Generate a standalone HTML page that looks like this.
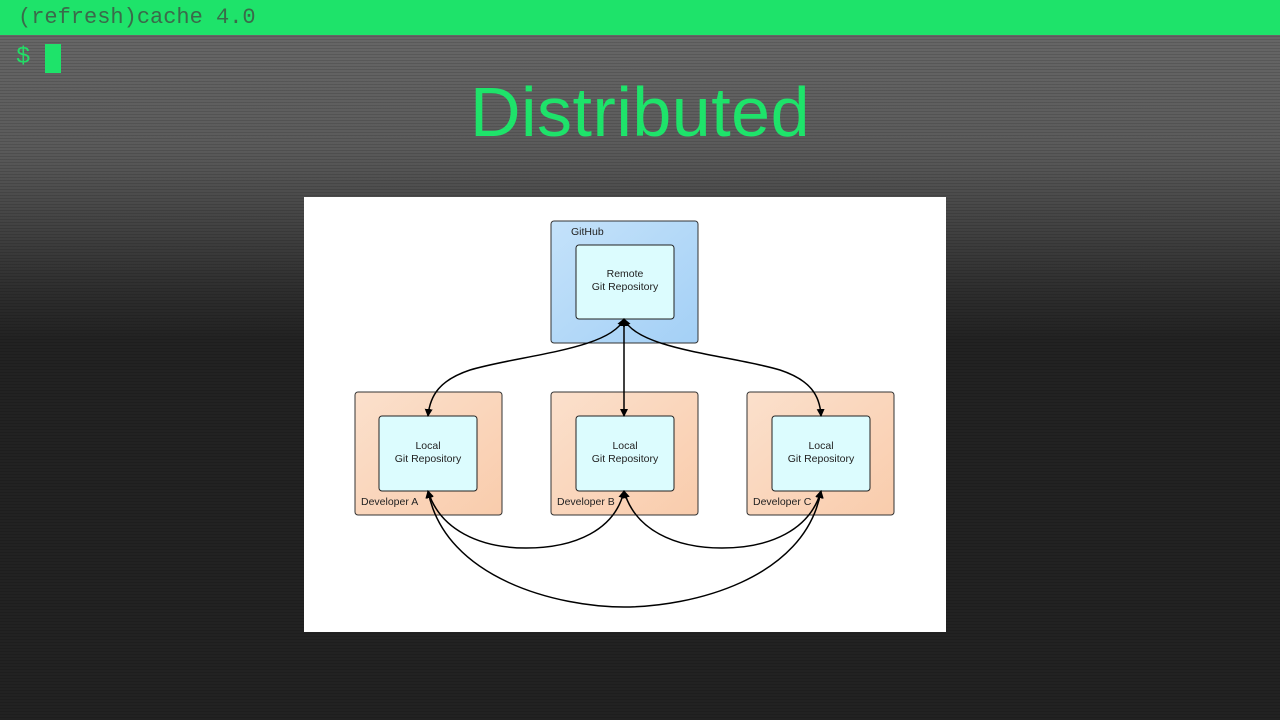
<!DOCTYPE html>
<html><head><style>
body{margin:0;width:1280px;height:720px;overflow:hidden;font-family:"Liberation Mono",monospace;
background:linear-gradient(180deg,#6a6a6a 0px,#5a5a5a 150px,#2e2e2e 290px,#222 340px,#222 720px);position:relative}
.scan{position:absolute;inset:0;background:repeating-linear-gradient(180deg,rgba(0,0,0,0.12) 0 1px,transparent 1px 3px)}
.bar{position:absolute;left:0;top:0;width:1280px;height:35px;background:#1ee36a;color:#3a6a4a;font-size:22px;line-height:35px;padding-left:18px;box-sizing:border-box}
.prompt{position:absolute;left:16px;top:44px;color:#22dd66;font-size:24px}
.cur{position:absolute;left:45px;top:44px;width:16px;height:29px;background:#1ee36a}
h1{position:absolute;left:0;width:1280px;top:72px;margin:0;text-align:center;color:#1ee36a;font-family:"Liberation Sans",sans-serif;font-weight:normal;font-size:70px;letter-spacing:0.5px}
</style></head><body>
<div class="scan"></div>
<div class="bar">(refresh)cache 4.0</div>
<div class="prompt">$</div><div class="cur"></div>
<h1>Distributed</h1>
<svg style="position:absolute;left:304px;top:197px" width="642" height="435" viewBox="304 197 642 435" font-family="Liberation Sans,sans-serif" font-size="10.5" fill="#222">
<defs>
<linearGradient id="b" x1="0" y1="0" x2="1" y2="1"><stop offset="0" stop-color="#c4e2fa"/><stop offset="1" stop-color="#a4d0f6"/></linearGradient>
<linearGradient id="o" x1="0" y1="0" x2="1" y2="1"><stop offset="0" stop-color="#fbe0cc"/><stop offset="1" stop-color="#f9ccac"/></linearGradient>
<marker id="a" markerWidth="8" markerHeight="8" refX="7" refY="4" orient="auto-start-reverse" markerUnits="userSpaceOnUse"><path d="M0,0 L8,4 L0,8z" fill="#000"/></marker>
</defs>
<rect x="304" y="197" width="642" height="435" fill="#fff"/>
<rect x="551" y="221" width="147" height="122" rx="3" fill="url(#b)" stroke="#333"/>
<text x="571" y="235">GitHub</text>
<rect x="576" y="245" width="98" height="74" rx="3" fill="#dcfcfe" stroke="#222"/>
<text x="625" y="277" text-anchor="middle">Remote</text><text x="625" y="290" text-anchor="middle">Git Repository</text>
<g>
<rect x="355" y="392" width="147" height="123" rx="3" fill="url(#o)" stroke="#333"/>
<rect x="379" y="416" width="98" height="75" rx="3" fill="#dcfcfe" stroke="#222"/>
<text x="428" y="449" text-anchor="middle">Local</text><text x="428" y="462" text-anchor="middle">Git Repository</text>
<text x="361" y="505">Developer A</text>
<rect x="551" y="392" width="147" height="123" rx="3" fill="url(#o)" stroke="#333"/>
<rect x="576" y="416" width="98" height="75" rx="3" fill="#dcfcfe" stroke="#222"/>
<text x="625" y="449" text-anchor="middle">Local</text><text x="625" y="462" text-anchor="middle">Git Repository</text>
<text x="557" y="505">Developer B</text>
<rect x="747" y="392" width="147" height="123" rx="3" fill="url(#o)" stroke="#333"/>
<rect x="772" y="416" width="98" height="75" rx="3" fill="#dcfcfe" stroke="#222"/>
<text x="821" y="449" text-anchor="middle">Local</text><text x="821" y="462" text-anchor="middle">Git Repository</text>
<text x="753" y="505">Developer C</text>
</g>
<g fill="none" stroke="#000" stroke-width="1.5" marker-start="url(#a)" marker-end="url(#a)">
<path d="M624,319 C610,350 520,355 470,370 C440,380 430,395 428,416"/>
<path d="M624,319 L624,416"/>
<path d="M624,319 C638,350 730,355 780,370 C810,380 820,395 821,416"/>
<path d="M428,491 C440,530 480,548 526,548 C575,548 615,530 624,491"/>
<path d="M624,491 C635,530 675,548 722,548 C770,548 810,530 821,491"/>
<path d="M428,491 C445,580 560,607 624,607 C690,607 805,580 821,491"/>
</g>
</svg>
</body></html>
